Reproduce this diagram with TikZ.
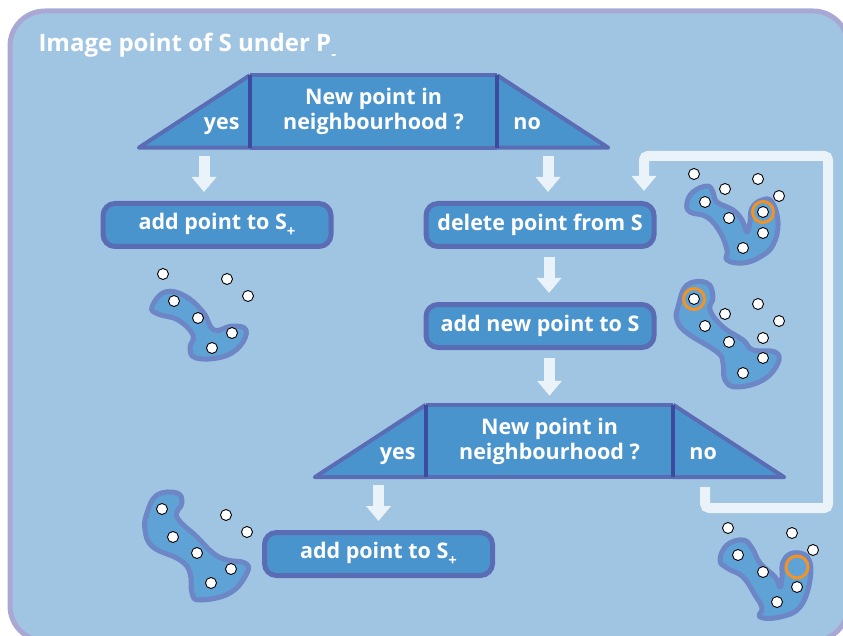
\documentclass[tikz,border=0pt]{standalone}
\usepackage{fontspec}
\setmainfont{Open Sans}
\usetikzlibrary{arrows.meta,positioning,calc}

\definecolor{panelblue}{HTML}{A0C5E3}
\definecolor{panelrim}{HTML}{A9A8D4}
\definecolor{boxblue}{HTML}{4A94CD}
\definecolor{boxrim}{HTML}{5A6CB4}
\definecolor{splitline}{HTML}{3D4B9E}
\definecolor{arrowwhite}{HTML}{EAF2FA}
\definecolor{blobfill}{HTML}{5FA2D6}
\definecolor{blobrim}{HTML}{6C86C6}
\definecolor{ringorange}{HTML}{F39325}

\newcommand{\boxfont}{\fontsize{21.5}{25}\selectfont\bfseries}
\newcommand{\lowidx}[1]{\raisebox{-0.3em}{\fontsize{15}{15}\selectfont #1}}

\begin{document}
\begin{tikzpicture}[x=1pt, y=-1pt,
  stepbox/.style={draw=boxrim, line width=5pt, fill=boxblue, rounded corners=12pt, minimum width=228pt, minimum height=43pt, inner sep=0pt, text=white, font=\boxfont},
  askbox/.style={fill=boxblue, minimum width=247pt, minimum height=72pt, inner sep=0pt, align=center, text=white, font=\boxfont},
  wing/.style={fill=boxblue, draw=boxrim, line width=4pt, line join=round},
  rim/.style={draw=boxrim, line width=4pt},
  split/.style={draw=splitline, line width=4pt},
  answer/.style={text=white, font=\boxfont, inner sep=0pt},
  flow/.style={arrowwhite, line width=11pt, -{Triangle[width=24pt,length=15pt]}},
  loopback/.style={arrowwhite, line width=10pt, rounded corners=4pt, -{Triangle[width=24pt,length=15pt]}},
  blob/.style={fill=blobfill, draw=blobrim, line width=5pt, line join=round},
  dot/.style={fill=white, draw=black, line width=0.9pt},
  ring/.style={draw=ringorange, line width=3pt}]

\useasboundingbox (0,0) rectangle (843,636);
\clip (0,0) rectangle (843,636);
\fill[white] (0,0) rectangle (843,636);
\draw[fill=panelblue, draw=panelrim, line width=5pt, rounded corners=35pt] (10,11) rectangle (848,641);

\node[anchor=base west, text=white, font=\fontsize{24}{28}\selectfont\bfseries] (title) at (35,52) {Image point of S under P\lowidx{-}};

% first question
\node[askbox] (ask1) at (373.5,111.5) {New point in\\neighbourhood ?};
\filldraw[wing] (ask1.north west) -- ([xshift=-111pt]ask1.south west) -- (ask1.south west);
\filldraw[wing] (ask1.north east) -- ([xshift=111pt]ask1.south east) -- (ask1.south east);
\draw[rim] (ask1.north west) -- (ask1.north east) (ask1.south west) -- (ask1.south east);
\draw[split] (ask1.north west) -- (ask1.south west) (ask1.north east) -- (ask1.south east);
\node[answer, anchor=base east] (yes1) at ([xshift=-10pt,yshift=18pt]ask1.south west) {yes};
\node[answer, anchor=base west] (no1) at ([xshift=16pt,yshift=18pt]ask1.south east) {no};

\node[stepbox] (add1) at (217,225) {add point to S\lowidx{+}};
\node[stepbox] (del) at (540,225) {delete point from S};
\node[stepbox] (addnew) at (540,326) {add new point to S};

% second question
\node[askbox] (ask2) at (549.5,441) {New point in\\neighbourhood ?};
\filldraw[wing] (ask2.north west) -- ([xshift=-111pt]ask2.south west) -- (ask2.south west);
\filldraw[wing] (ask2.north east) -- ([xshift=111pt]ask2.south east) -- (ask2.south east);
\draw[rim] (ask2.north west) -- (ask2.north east) (ask2.south west) -- (ask2.south east);
\draw[split] (ask2.north west) -- (ask2.south west) (ask2.north east) -- (ask2.south east);
\node[answer, anchor=base east] (yes2) at ([xshift=-10pt,yshift=18pt]ask2.south west) {yes};
\node[answer, anchor=base west] (no2) at ([xshift=16pt,yshift=18pt]ask2.south east) {no};

\node[stepbox] (add2) at (378.5,554) {add point to S\lowidx{+}};

% arrows
\draw[flow, shorten <=8pt, shorten >=9pt] ($(add1.north |- ask1.south)+(-13,0)$) -- ($(add1.north)+(-13,0)$);
\draw[flow, shorten <=8pt, shorten >=9pt] ($(del.north |- ask1.south)+(8,0)$) -- ($(del.north)+(8,0)$);
\draw[flow, shorten <=8pt, shorten >=9pt] ($(del.south)+(9,0)$) -- ($(addnew.north)+(9,0)$);
\draw[flow, shorten <=8pt, shorten >=9pt] (addnew.south -| ask2.north) -- (ask2.north);
\draw[flow, shorten <=8pt, shorten >=9pt] (add2.north |- ask2.south) -- (add2.north);
\coordinate (back) at ($(ask2.south east)+(32,10)$);
\draw[loopback, shorten >=10pt] (back) |- (828,508) |- (644,156) -- ($(del.north)+(104,0)$);

% point sets
\draw[blob] plot[smooth cycle, tension=0.7] coordinates {(152,307) (165,292) (185,296) (203,312) (214,330) (232,326) (246,330) (240,346) (222,357) (196,358) (190,348) (193,335) (178,320) (158,314)};
\foreach \x/\y in {163/274, 227/279, 248/296, 174/301, 198/318, 232/333, 212/348}
  \filldraw[dot] (\x,\y) circle[radius=5.5pt];

\draw[blob] plot[smooth cycle, tension=0.7] coordinates {(687,203) (693,192) (707,186) (713,192) (717,202) (733,210) (742,220) (747,232) (750,222) (752,208) (762,200) (772,202) (778,223) (773,245) (760,257) (743,263) (727,260) (727,250) (720,232) (707,217) (690,212)};
\foreach \x/\y in {694/174, 725/189, 758/179, 779/196, 705/202, 729/218, 763/212, 763/233, 743/248}
  \filldraw[dot] (\x,\y) circle[radius=5.5pt];
\draw[ring] (763,212) circle[radius=10.5pt];

\draw[blob] plot[smooth cycle, tension=0.7] coordinates {(678,307) (687,285) (707,283) (713,297) (710,310) (723,327) (743,340) (753,350) (775,352) (778,363) (763,380) (737,387) (725,380) (723,363) (717,352) (687,333) (677,320)};
\foreach \x/\y in {694/299, 758/304, 725/314, 779/321, 705/326, 729/342, 763/338, 763/358, 743/373}
  \filldraw[dot] (\x,\y) circle[radius=5.5pt];
\draw[ring] (694,299) circle[radius=10.5pt];

\draw[blob] plot[smooth cycle, tension=0.7] coordinates {(147,513) (157,495) (177,493) (182,503) (177,517) (197,537) (213,553) (227,560) (245,563) (247,573) (230,593) (200,600) (192,593) (190,573) (180,560) (153,547) (145,530)};
\foreach \x/\y in {162/509, 226/515, 247/532, 173/537, 197/553, 231/569, 211/583}
  \filldraw[dot] (\x,\y) circle[radius=5.5pt];

\draw[blob] plot[smooth cycle, tension=0.7] coordinates {(720,560) (727,545) (743,540) (752,548) (760,563) (775,577) (780,587) (782,577) (783,562) (793,553) (808,558) (810,580) (800,607) (780,617) (760,617) (762,608) (755,595) (743,577) (727,568)};
\foreach \x/\y in {728/528, 792/533, 813/550, 738/555, 763/572, 797/587, 777/602}
  \filldraw[dot] (\x,\y) circle[radius=5.5pt];
\draw[ring] (797,567) circle[radius=11pt];
\end{tikzpicture}
\end{document}
